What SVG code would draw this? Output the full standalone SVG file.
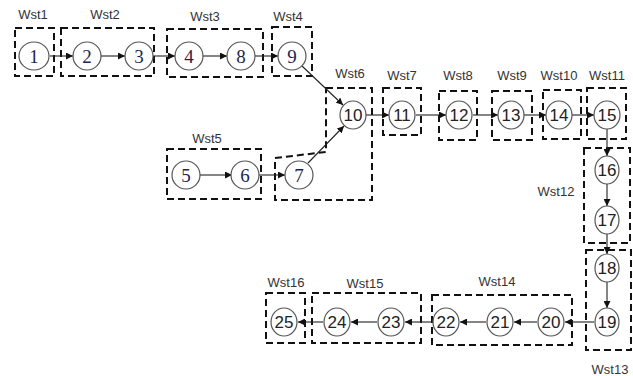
<svg xmlns="http://www.w3.org/2000/svg" width="633" height="376" viewBox="0 0 633 376">
<style>
.bg{fill:#fff}
.n{fill:#fff;stroke:#555;stroke-width:1.2}
.ts{font-family:"Liberation Serif",serif;font-size:19px;fill:#1f1f4f;text-anchor:middle}
.tn{font-family:"Liberation Sans",sans-serif;font-size:17px;fill:#222;text-anchor:middle}
.lb{font-family:"Liberation Sans",sans-serif;font-size:13px;fill:#333;text-anchor:middle}
.box{fill:none;stroke:#111;stroke-width:2;stroke-dasharray:7,4}
.c{stroke:#222;stroke-width:1.1;fill:none;marker-end:url(#ah)}
</style>
<defs>
<marker id="ah" viewBox="0 0 10 10" refX="10" refY="5" markerWidth="7" markerHeight="7" markerUnits="userSpaceOnUse" orient="auto">
<path d="M0,0 L10,5 L0,10 z" fill="#111"/>
</marker>
</defs>
<rect class="bg" width="633" height="376"/>
<g id="stations">
<rect class="box" x="15" y="28" width="39" height="48"/>
<rect class="box" x="61" y="28" width="93" height="48"/>
<rect class="box" x="167" y="29" width="96" height="48"/>
<rect class="box" x="272" y="27" width="40" height="49"/>
<rect class="box" x="167" y="149" width="94" height="50"/>
<path class="box" d="M326,88 L372,88 L372,200 L275,200 L275,158 L326,152 Z"/>
<rect class="box" x="383" y="88" width="38" height="47"/>
<rect class="box" x="439" y="91" width="38" height="49"/>
<rect class="box" x="492" y="91" width="40" height="49"/>
<rect class="box" x="543" y="90" width="38" height="49"/>
<rect class="box" x="587" y="88" width="39" height="51"/>
<rect class="box" x="584" y="148" width="46" height="95"/>
<rect class="box" x="586" y="250" width="45" height="100"/>
<rect class="box" x="432" y="295" width="140" height="50"/>
<rect class="box" x="312" y="293" width="109" height="50"/>
<rect class="box" x="266" y="293" width="39" height="50"/>
</g>
<g id="labels">
<text class="lb" x="33" y="19">Wst1</text>
<text class="lb" x="105" y="19">Wst2</text>
<text class="lb" x="205" y="21">Wst3</text>
<text class="lb" x="288" y="21">Wst4</text>
<text class="lb" x="207" y="143">Wst5</text>
<text class="lb" x="350" y="78">Wst6</text>
<text class="lb" x="402" y="80">Wst7</text>
<text class="lb" x="458" y="80">Wst8</text>
<text class="lb" x="512" y="80">Wst9</text>
<text class="lb" x="559" y="80">Wst10</text>
<text class="lb" x="607" y="80">Wst11</text>
<text class="lb" x="556" y="196">Wst12</text>
<text class="lb" x="610" y="374">Wst13</text>
<text class="lb" x="497" y="286">Wst14</text>
<text class="lb" x="365" y="288">Wst15</text>
<text class="lb" x="286" y="287">Wst16</text>
</g>
<g id="connectors">
<line class="c" x1="50" y1="56" x2="73" y2="56"/>
<line class="c" x1="101" y1="56" x2="125" y2="56"/>
<line class="c" x1="153" y1="56" x2="175" y2="56"/>
<line class="c" x1="203" y1="56" x2="227" y2="56"/>
<line class="c" x1="255" y1="56" x2="278" y2="56"/>
<line class="c" x1="302" y1="66" x2="343" y2="105"/>
<line class="c" x1="200" y1="175" x2="232" y2="175"/>
<line class="c" x1="259" y1="175" x2="285" y2="175"/>
<line class="c" x1="308" y1="163" x2="344" y2="126"/>
<line class="c" x1="366" y1="115" x2="389" y2="115"/>
<line class="c" x1="416" y1="115" x2="446" y2="115"/>
<line class="c" x1="473" y1="115" x2="498" y2="115"/>
<line class="c" x1="524" y1="115" x2="546" y2="115"/>
<line class="c" x1="572" y1="115" x2="594" y2="115"/>
<line class="c" x1="607" y1="129" x2="607" y2="156"/>
<line class="c" x1="607" y1="184" x2="607" y2="206"/>
<line class="c" x1="607" y1="234" x2="607" y2="254"/>
<line class="c" x1="607" y1="282" x2="607" y2="308"/>
<line class="c" x1="594" y1="322" x2="565" y2="322"/>
<line class="c" x1="537" y1="322" x2="514" y2="322"/>
<line class="c" x1="486" y1="322" x2="460" y2="322"/>
<line class="c" x1="432" y1="322" x2="405" y2="322"/>
<line class="c" x1="377" y1="322" x2="351" y2="322"/>
<line class="c" x1="323" y1="322" x2="298" y2="322"/>
</g>
<g id="n1"><ellipse class="n" cx="34" cy="56" rx="15" ry="14"/><text class="ts" x="34" y="63">1</text></g>
<g id="n2"><ellipse class="n" cx="87" cy="56" rx="14" ry="14"/><text class="ts" x="87" y="63">2</text></g>
<g id="n3"><ellipse class="n" cx="139" cy="56" rx="14" ry="14"/><text class="ts" x="139" y="63">3</text></g>
<g id="n4"><ellipse class="n" cx="189" cy="56" rx="14" ry="14"/><text class="ts" x="189" y="63" style="fill:#3a1838">4</text></g>
<g id="n8"><ellipse class="n" cx="241" cy="56" rx="14" ry="14"/><text class="ts" x="241" y="63">8</text></g>
<g id="n9"><ellipse class="n" cx="292" cy="56" rx="14" ry="14"/><text class="ts" x="292" y="63">9</text></g>
<g id="n5"><ellipse class="n" cx="186" cy="175" rx="14" ry="14"/><text class="ts" x="186" y="182">5</text></g>
<g id="n6"><ellipse class="n" cx="245" cy="175" rx="14" ry="14"/><text class="ts" x="245" y="182">6</text></g>
<g id="n7"><ellipse class="n" cx="299" cy="175" rx="14" ry="14"/><text class="ts" x="299" y="182">7</text></g>
<g id="n10"><ellipse class="n" cx="353" cy="115" rx="13" ry="14"/><text class="tn" x="353" y="121">10</text></g>
<g id="n11"><ellipse class="n" cx="402" cy="115" rx="13" ry="14"/><text class="tn" x="402" y="121">11</text></g>
<g id="n12"><ellipse class="n" cx="459" cy="115" rx="13" ry="14"/><text class="tn" x="459" y="121">12</text></g>
<g id="n13"><ellipse class="n" cx="511" cy="115" rx="13" ry="14"/><text class="tn" x="511" y="121">13</text></g>
<g id="n14"><ellipse class="n" cx="559" cy="115" rx="13" ry="14"/><text class="tn" x="559" y="121">14</text></g>
<g id="n15"><ellipse class="n" cx="607" cy="115" rx="13" ry="14"/><text class="tn" x="607" y="121">15</text></g>
<g id="n16"><ellipse class="n" cx="607" cy="170" rx="12" ry="14"/><text class="tn" x="607" y="176">16</text></g>
<g id="n17"><ellipse class="n" cx="607" cy="220" rx="12" ry="14"/><text class="tn" x="607" y="226">17</text></g>
<g id="n18"><ellipse class="n" cx="607" cy="268" rx="12" ry="14"/><text class="tn" x="607" y="274">18</text></g>
<g id="n19"><ellipse class="n" cx="607" cy="322" rx="12" ry="14"/><text class="tn" x="607" y="328">19</text></g>
<g id="n20"><ellipse class="n" cx="551" cy="322" rx="13" ry="14"/><text class="tn" x="551" y="328">20</text></g>
<g id="n21"><ellipse class="n" cx="500" cy="322" rx="13" ry="14"/><text class="tn" x="500" y="328">21</text></g>
<g id="n22"><ellipse class="n" cx="446" cy="322" rx="13" ry="14"/><text class="tn" x="446" y="328">22</text></g>
<g id="n23"><ellipse class="n" cx="391" cy="322" rx="13" ry="14"/><text class="tn" x="391" y="328">23</text></g>
<g id="n24"><ellipse class="n" cx="337" cy="322" rx="13" ry="14"/><text class="tn" x="337" y="328">24</text></g>
<g id="n25"><ellipse class="n" cx="284" cy="322" rx="13" ry="14"/><text class="tn" x="284" y="328">25</text></g>
</svg>
